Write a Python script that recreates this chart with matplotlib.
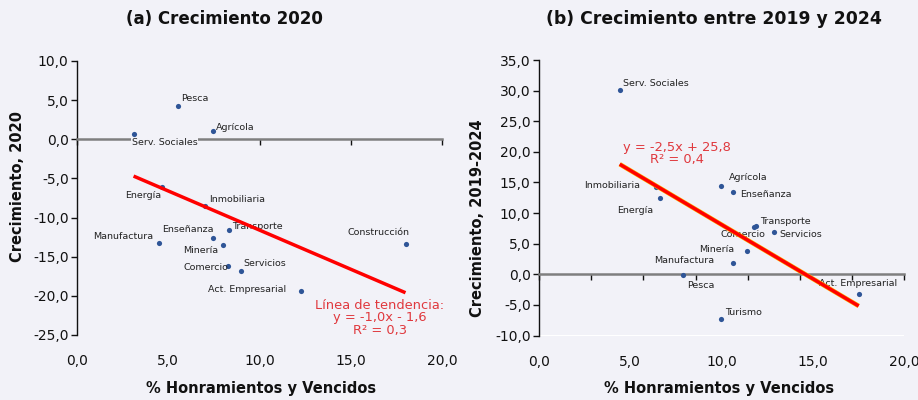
import numpy as np
import matplotlib
matplotlib.use('Agg')
import matplotlib.pyplot as plt
from matplotlib.ticker import FuncFormatter, FixedLocator

plt.rcParams['font.family'] = ['DejaVu Sans']
plt.rcParams['axes.unicode_minus'] = False

# (a) Crecimiento 2020
sect_a = ['Pesca', 'Agrícola', 'Serv. Sociales', 'Energía', 'Inmobiliaria', 'Transporte',
          'Enseñanza', 'Manufactura', 'Minería', 'Construcción', 'Comercio', 'Servicios',
          'Act. Empresarial']
x_a = [5.55, 7.45, 3.1, 4.67, 7.0, 8.35, 7.47, 4.5, 8.0, 18.0, 8.27, 9.0, 12.27]
y_a = [4.3, 1.1, 0.65, -6.15, -8.5, -11.6, -12.6, -13.3, -13.5, -13.4, -16.15, -16.8, -19.4]
trend_a = (-1.0, -1.6)

# (b) Crecimiento entre 2019 y 2024
sect_b = ['Serv. Sociales', 'Inmobiliaria', 'Energía', 'Agrícola', 'Enseñanza', 'Transporte',
          'Comercio', 'Servicios', 'Minería', 'Manufactura', 'Pesca', 'Act. Empresarial', 'Turismo']
x_b = [4.42, 6.38, 6.64, 9.98, 10.62, 11.9, 11.77, 12.86, 11.4, 10.64, 7.9, 17.5, 9.98]
y_b = [30.1, 14.3, 12.4, 14.5, 13.4, 7.95, 7.7, 6.9, 3.75, 1.8, -0.15, -3.27, -7.3]
trend_b = (-1.77, 25.8)

# label placement: (dx px, dy px, ha) relative to the point, dy positive = up
lab_a = [(3, 7, 'left'), (3, 3.3, 'left'), (-2, -8.6, 'left'), (-0.6, -8.3, 'right'),
         (4, 6.3, 'left'), (3, 3.7, 'left'), (0.7, 8.6, 'right'), (-5.7, 7.4, 'right'),
         (-5, -5.7, 'right'), (4, 11.6, 'right'), (0, -1.6, 'right'), (2.3, 7, 'left'),
         (-15, 1.3, 'right')]
lab_b = [(3.6, 6.3, 'left'), (-15.4, 1.4, 'right'), (-7, -12.4, 'right'), (7.7, 7.7, 'left'),
         (7.3, -2.4, 'left'), (3.4, 3.7, 'left'), (11.7, -7, 'right'), (5.3, -2, 'left'),
         (-12.6, 1.6, 'right'), (-18.6, 3, 'right'), (3.7, -10.7, 'left'), (-1, 11, 'center'),
         (4, 6, 'left')]

BG = '#F2F2F8'
DOT = '#2F5597'
RED = '#FF0000'
TXT_RED = '#E0393E'

fig = plt.figure(figsize=(9.18, 4.0), dpi=100, facecolor=BG)
ax_a = fig.add_axes([77/918, 1-335/400, 365/918, 274/400], facecolor=BG)
ax_b = fig.add_axes([539/918, 1-335.5/400, 365.3/918, 275.5/400], facecolor=BG)

fmt = FuncFormatter(lambda v, p: f"{v:.1f}".replace('.', ','))


def style(ax, ylim, yticks, xticks_marks):
    ax.set_xlim(0, 20)
    ax.set_ylim(*ylim)
    for s in ['top', 'right']:
        ax.spines[s].set_visible(False)
    ax.spines['left'].set_color('#111111')
    ax.spines['left'].set_linewidth(1.0)
    ax.spines['bottom'].set_position(('data', 0))
    ax.spines['bottom'].set_color('#7F7F7F')
    ax.spines['bottom'].set_linewidth(1.8)
    ax.set_yticks(yticks)
    ax.yaxis.set_major_formatter(fmt)
    ax.tick_params(axis='y', direction='out', length=4, width=1, labelsize=10, colors='#111111', pad=2)
    ax.xaxis.set_major_locator(FixedLocator(xticks_marks))
    ax.tick_params(axis='x', direction='out', length=4, width=1, color='#111111', labelbottom=False)
    sec = ax.secondary_xaxis('bottom')
    sec.set_xticks([0, 5, 10, 15, 20])
    sec.xaxis.set_major_formatter(fmt)
    sec.spines['bottom'].set_visible(False)
    sec.tick_params(length=0, labelsize=10, pad=14, colors='#111111')


style(ax_a, (-25, 10), np.arange(-25, 10.1, 5), [0, 5, 10, 15, 20])
style(ax_b, (-10, 35), np.arange(-10, 35.1, 5), np.linspace(0, 20, 8))

px = 0.72  # points per pixel at 100 dpi


def draw(ax, xs, ys, names, labs, trend, halo):
    xx = np.array([min(xs), max(xs)])
    if halo:
        ax.plot(xx, trend[0]*xx + trend[1], color='#FFB000', lw=3.3, zorder=6, solid_capstyle='butt')
    ax.plot(xx, trend[0]*xx + trend[1], color=RED, lw=2.5, zorder=7, solid_capstyle='butt')
    ax.scatter(xs, ys, s=14, color=DOT, zorder=4, linewidths=0)
    for x, y, n, (dx, dy, ha) in zip(xs, ys, names, labs):
        bbox = None
        if n == 'Serv. Sociales' and y < 1:
            bbox = dict(boxstyle='square,pad=0.05', fc=BG, ec='none')
        ax.annotate(n, (x, y), xytext=(dx*px, dy*px), textcoords='offset points',
                    ha=ha, va='center', fontsize=6.8, color='#222222', zorder=5, bbox=bbox)


draw(ax_a, x_a, y_a, sect_a, lab_a, trend_a, False)
draw(ax_b, x_b, y_b, sect_b, lab_b, trend_b, True)

ax_a.text(16.6, -22.8, 'Línea de tendencia:\ny = -1,0x - 1,6\nR² = 0,3', ha='center', va='center',
          fontsize=9.4, color=TXT_RED, linespacing=0.95, zorder=8)
ax_b.text(7.53, 19.7, 'y = -2,5x + 25,8\nR² = 0,4', ha='center', va='center',
          fontsize=9.4, color=TXT_RED, linespacing=0.95, zorder=8)

fig.text(224/918, 1-19/400, '(a) Crecimiento 2020', ha='center', va='center',
         fontsize=12, fontweight='bold', color='#111111')
fig.text(714/918, 1-19/400, '(b) Crecimiento entre 2019 y 2024', ha='center', va='center',
         fontsize=12.4, fontweight='bold', color='#111111')
fig.text(261/918, 1-388/400, '% Honramientos y Vencidos', ha='center', va='center',
         fontsize=10.5, fontweight='bold', color='#111111')
fig.text(719/918, 1-388/400, '% Honramientos y Vencidos', ha='center', va='center',
         fontsize=10.5, fontweight='bold', color='#111111')
fig.text(18/918, 1-187/400, 'Crecimiento, 2020', ha='center', va='center', rotation=90,
         fontsize=10.5, fontweight='bold', color='#111111')
fig.text(478/918, 1-218/400, 'Crecimiento, 2019-2024', ha='center', va='center', rotation=90,
         fontsize=10.5, fontweight='bold', color='#111111')

fig.savefig('out.png', dpi=100, facecolor=BG)
